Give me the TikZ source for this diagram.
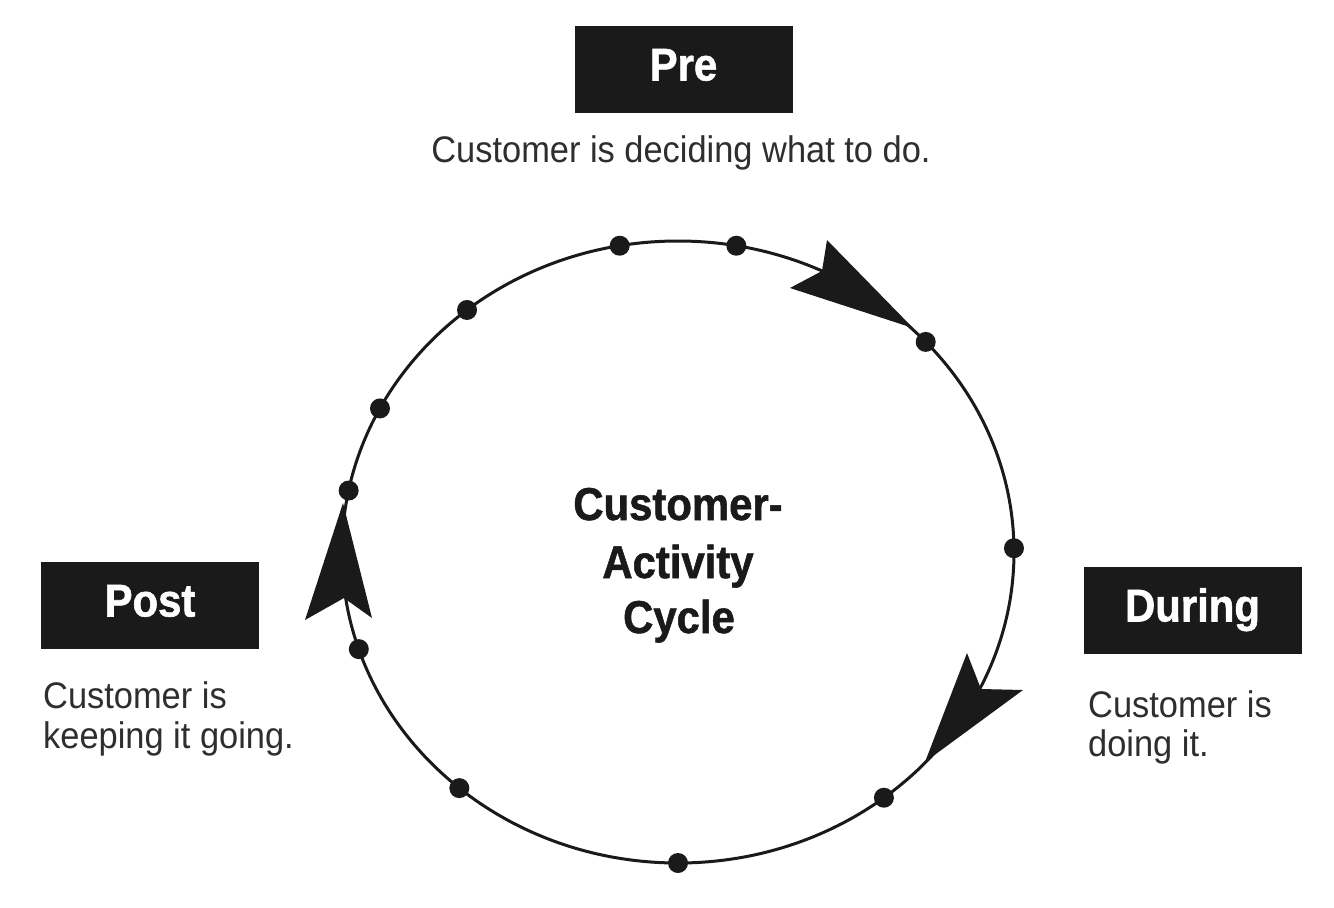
\documentclass[tikz,border=0pt]{standalone}
\usepackage{fontspec}
\setmainfont{Liberation Sans}
\newfontfamily\descfont[FakeStretch=0.93]{Liberation Sans}
\newfontfamily\boldcond[FakeStretch=0.91, FakeBold=1.2]{Liberation Sans}
\definecolor{ink}{HTML}{1A1A1A}
\definecolor{desc}{HTML}{2E2E2E}
\begin{document}
\begin{tikzpicture}[x=1pt,y=-1pt,
  phasebox/.style={fill=ink, text=white, inner sep=0pt,
    minimum width=218pt, minimum height=87pt,
    font=\boldcond\bfseries\fontsize{46}{52}\selectfont,
    text height=33pt, text depth=10pt},
  desctext/.style={text=desc, inner sep=0pt,
    font=\descfont\fontsize{37}{40}\selectfont},
  centertext/.style={text=ink, inner sep=0pt,
    font=\boldcond\bfseries\fontsize{46}{57}\selectfont},
  dot/.style={circle, fill=ink, inner sep=0pt, minimum size=20pt},
  cycleline/.style={draw=ink, line width=3pt},
  head/.style={fill=ink}
]
\useasboundingbox (0,0) rectangle (1334,908);
\fill[white] (0,0) rectangle (1334,908);

% cycle
\draw[cycleline] (678,552) ellipse [x radius=336, y radius=311];

% dots on the cycle
\foreach \a [count=\i] in {100,80,42.5,128.9,152.5,168.6,0.7,198.2,229.4,270,307.8}
  \node[dot] (d\i) at ({678+336*cos(\a)},{552-311*sin(\a)}) {};

% arrowheads
\fill[head] (913,328) -- (827,240) -- (822,271) -- (790,288) -- cycle;
\fill[head] (343,503) -- (305,620) -- (344,598) -- (372,618) -- cycle;
\fill[head] (925,762) -- (967,653) -- (981,689) -- (1023,690) -- cycle;

% phase boxes
\node[phasebox] (pre) at (683.5,69) {Pre};
\node[phasebox] (post) at (150,605) {Post};
\node[phasebox] (during) at (1192.5,610) {During};

% descriptions
\node[desctext, anchor=base] (predesc) at (681,162) {Customer is deciding what to do.};
\node[desctext, anchor=base west] (postdesc1) at (43,708) {Customer is};
\node[desctext, anchor=base west] (postdesc2) at (43,748) {keeping it going.};
\node[desctext, anchor=base west] (durdesc1) at (1088,717) {Customer is};
\node[desctext, anchor=base west] (durdesc2) at (1088,756) {doing it.};

% centre title
\node[centertext, anchor=base] (c1) at (678,520) {Customer-};
\node[centertext, anchor=base] (c2) at (678,578) {Activity};
\node[centertext, anchor=base] (c3) at (679,633) {Cycle};
\end{tikzpicture}
\end{document}
